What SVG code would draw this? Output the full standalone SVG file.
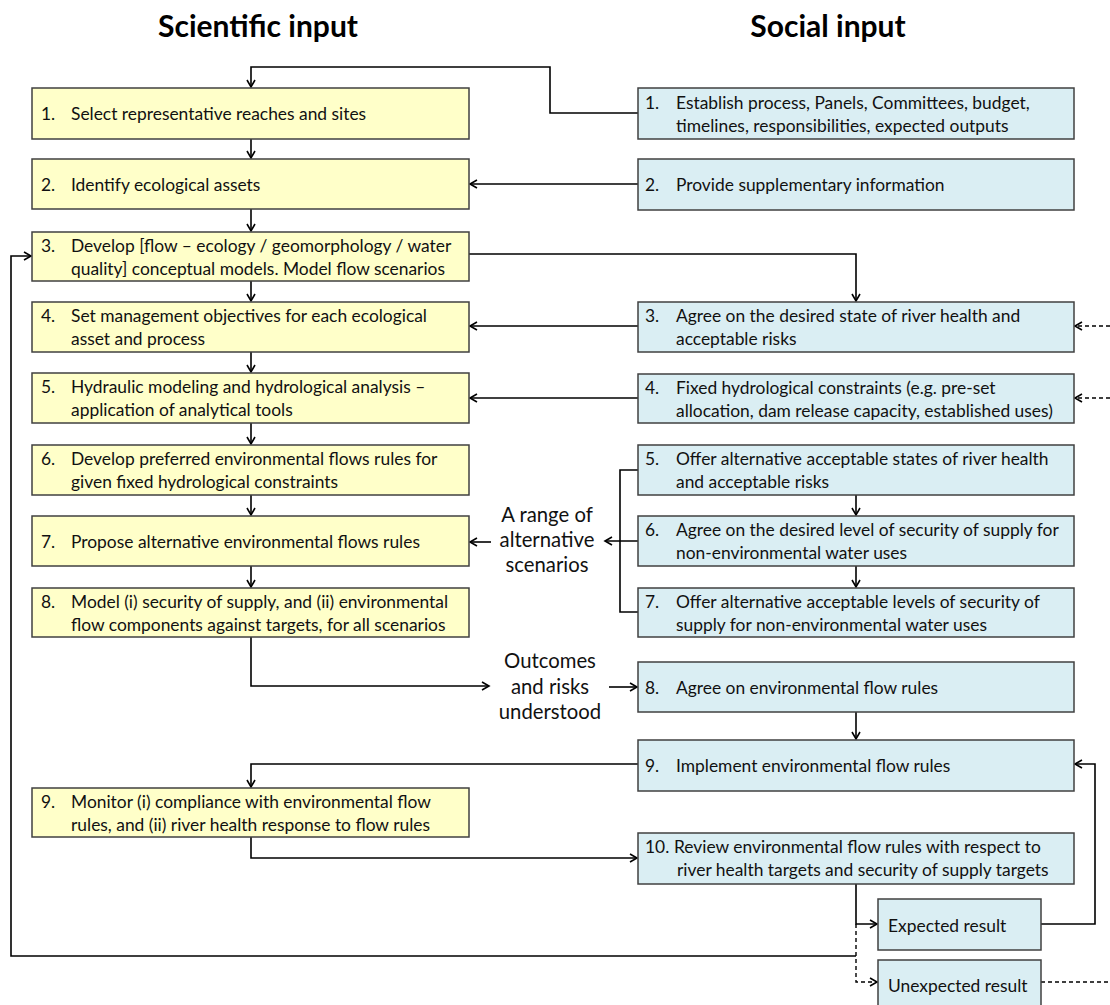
<svg xmlns="http://www.w3.org/2000/svg" width="1110" height="1005" viewBox="0 0 1110 1005">
  <style>
    .sci { fill: #FFFFC9; stroke: #404040; stroke-width: 1.5; }
    .soc { fill: #DAEEF3; stroke: #404040; stroke-width: 1.5; }
    .t { font-family: Lato, "Liberation Sans", sans-serif; font-size: 17.4px; fill: #111; }
    .lbl { font-family: Lato, "Liberation Sans", sans-serif; font-size: 20.3px; fill: #111; text-anchor: middle; }
    .title { font-family: Lato, "Liberation Sans", sans-serif; font-size: 30px; font-weight: bold; fill: #000; text-anchor: middle; }
    .c { fill: none; stroke: #000; stroke-width: 1.6; }
    .d { fill: none; stroke: #000; stroke-width: 1.4; stroke-dasharray: 4 3; }
  </style>
  <defs>
    <marker id="arr" markerUnits="userSpaceOnUse" markerWidth="12" markerHeight="12" refX="8" refY="5" orient="auto">
      <path d="M1,1 L8,5 L1,9" fill="none" stroke="#000" stroke-width="1.6"/>
    </marker>
  </defs>

  <!-- column headings -->
  <text class="title" x="258" y="37">Scientific input</text>
  <text class="title" x="828" y="37">Social input</text>

  <!-- connectors -->
  <g id="connectors">
    <path class="c" d="M638,113 H550 V67 H251 V87" marker-end="url(#arr)"/>
    <path class="c" d="M251,139 V158" marker-end="url(#arr)"/>
    <path class="c" d="M251,209 V231" marker-end="url(#arr)"/>
    <path class="c" d="M251,281 V301" marker-end="url(#arr)"/>
    <path class="c" d="M251,352 V372" marker-end="url(#arr)"/>
    <path class="c" d="M251,423 V444" marker-end="url(#arr)"/>
    <path class="c" d="M251,495 V515" marker-end="url(#arr)"/>
    <path class="c" d="M251,566 V587" marker-end="url(#arr)"/>
    <path class="c" d="M638,184 H470" marker-end="url(#arr)"/>
    <path class="c" d="M469,254 H856 V301" marker-end="url(#arr)"/>
    <path class="c" d="M638,326 H470" marker-end="url(#arr)"/>
    <path class="c" d="M638,398 H470" marker-end="url(#arr)"/>
    <path class="c" d="M638,470 H620 V612 H638"/>
    <path class="c" d="M638,541 H605" marker-end="url(#arr)"/>
    <path class="c" d="M856,495 V515" marker-end="url(#arr)"/>
    <path class="c" d="M856,566 V587" marker-end="url(#arr)"/>
    <path class="c" d="M491,542 H470" marker-end="url(#arr)"/>
    <path class="c" d="M251,637 V686 H489" marker-end="url(#arr)"/>
    <path class="c" d="M609,687 H637" marker-end="url(#arr)"/>
    <path class="c" d="M856,712 V739" marker-end="url(#arr)"/>
    <path class="c" d="M638,764 H251 V787" marker-end="url(#arr)"/>
    <path class="c" d="M251,837 V858 H637" marker-end="url(#arr)"/>
    <path class="c" d="M856,884 V924 H877" marker-end="url(#arr)"/>
    <path class="c" d="M1041,924 H1095 V764 H1075" marker-end="url(#arr)"/>
    <path class="c" d="M856,956 H11 V256 H31" marker-end="url(#arr)"/>
    <path class="d" d="M856,924 V982 H877" marker-end="url(#arr)"/>
    <path class="d" d="M1041,982 H1110"/>
    <path class="d" d="M1110,326 H1075" marker-end="url(#arr)"/>
    <path class="d" d="M1110,398 H1075" marker-end="url(#arr)"/>
  </g>

  <!-- scientific steps -->
  <g id="sci1"><rect class="sci" x="32" y="88" width="437" height="51"/>
    <text class="t" x="41" y="120">1.</text><text class="t" x="71" y="120">Select representative  reaches and sites</text></g>
  <g id="sci2"><rect class="sci" x="32" y="159" width="437" height="50"/>
    <text class="t" x="41" y="191">2.</text><text class="t" x="71" y="191">Identify ecological assets</text></g>
  <g id="sci3"><rect class="sci" x="32" y="232" width="437" height="49"/>
    <text class="t" x="41" y="252">3.</text><text class="t" x="71" y="252">Develop [flow – ecology / geomorphology / water</text>
    <text class="t" x="71" y="275">quality] conceptual models. Model flow scenarios</text></g>
  <g id="sci4"><rect class="sci" x="32" y="302" width="437" height="50"/>
    <text class="t" x="41" y="322">4.</text><text class="t" x="71" y="322">Set management objectives for each ecological</text>
    <text class="t" x="71" y="345">asset and process</text></g>
  <g id="sci5"><rect class="sci" x="32" y="373" width="437" height="50"/>
    <text class="t" x="41" y="393">5.</text><text class="t" x="71" y="393">Hydraulic modeling and hydrological analysis –</text>
    <text class="t" x="71" y="416">application of analytical tools</text></g>
  <g id="sci6"><rect class="sci" x="32" y="445" width="437" height="50"/>
    <text class="t" x="41" y="465">6.</text><text class="t" x="71" y="465">Develop preferred environmental flows rules for</text>
    <text class="t" x="71" y="488">given fixed hydrological constraints</text></g>
  <g id="sci7"><rect class="sci" x="32" y="516" width="437" height="50"/>
    <text class="t" x="41" y="548">7.</text><text class="t" x="71" y="548">Propose alternative environmental flows rules</text></g>
  <g id="sci8"><rect class="sci" x="32" y="588" width="437" height="49"/>
    <text class="t" x="41" y="608">8.</text><text class="t" x="71" y="608">Model (i) security of supply, and (ii) environmental</text>
    <text class="t" x="71" y="631">flow components against targets, for all scenarios</text></g>
  <g id="sci9"><rect class="sci" x="32" y="788" width="437" height="49"/>
    <text class="t" x="41" y="808">9.</text><text class="t" x="71" y="808">Monitor (i) compliance with environmental flow</text>
    <text class="t" x="71" y="831">rules, and (ii) river health response to flow rules</text></g>

  <!-- social steps -->
  <g id="soc1"><rect class="soc" x="638" y="88" width="436" height="51"/>
    <text class="t" x="645" y="109">1.</text><text class="t" x="676" y="109">Establish process, Panels, Committees, budget,</text>
    <text class="t" x="676" y="132">timelines, responsibilities, expected outputs</text></g>
  <g id="soc2"><rect class="soc" x="638" y="159" width="436" height="51"/>
    <text class="t" x="645" y="191">2.</text><text class="t" x="676" y="191">Provide supplementary information</text></g>
  <g id="soc3"><rect class="soc" x="638" y="302" width="436" height="50"/>
    <text class="t" x="645" y="322">3.</text><text class="t" x="676" y="322">Agree on the desired state of river health and</text>
    <text class="t" x="676" y="345">acceptable risks</text></g>
  <g id="soc4"><rect class="soc" x="638" y="374" width="436" height="49"/>
    <text class="t" x="645" y="394">4.</text><text class="t" x="676" y="394">Fixed hydrological constraints (e.g. pre-set</text>
    <text class="t" x="676" y="417">allocation, dam release capacity, established uses)</text></g>
  <g id="soc5"><rect class="soc" x="638" y="445" width="436" height="50"/>
    <text class="t" x="645" y="465">5.</text><text class="t" x="676" y="465">Offer alternative acceptable states of river health</text>
    <text class="t" x="676" y="488">and acceptable risks</text></g>
  <g id="soc6"><rect class="soc" x="638" y="516" width="436" height="50"/>
    <text class="t" x="645" y="536">6.</text><text class="t" x="676" y="536">Agree on the desired level of security of supply for</text>
    <text class="t" x="676" y="559">non-environmental water uses</text></g>
  <g id="soc7"><rect class="soc" x="638" y="588" width="436" height="49"/>
    <text class="t" x="645" y="608">7.</text><text class="t" x="676" y="608">Offer alternative acceptable levels of security of</text>
    <text class="t" x="676" y="631">supply for non-environmental water uses</text></g>
  <g id="soc8"><rect class="soc" x="638" y="662" width="436" height="50"/>
    <text class="t" x="645" y="694">8.</text><text class="t" x="676" y="694">Agree on environmental flow rules</text></g>
  <g id="soc9"><rect class="soc" x="638" y="740" width="436" height="51"/>
    <text class="t" x="645" y="772">9.</text><text class="t" x="676" y="772">Implement environmental flow rules</text></g>
  <g id="soc10"><rect class="soc" x="638" y="833" width="436" height="51"/>
    <text class="t" x="645" y="853">10.</text><text class="t" x="674" y="853">Review environmental flow rules with respect to</text>
    <text class="t" x="677" y="876">river health targets and security of supply targets</text></g>
  <g id="expected"><rect class="soc" x="878" y="899" width="163" height="51"/>
    <text class="t" x="888" y="932">Expected result</text></g>
  <g id="unexpected"><rect class="soc" x="878" y="960" width="163" height="52"/>
    <text class="t" x="888" y="992">Unexpected result</text></g>

  <!-- free labels -->
  <g id="range-label">
    <text class="lbl" x="547" y="522">A range of</text>
    <text class="lbl" x="547" y="547">alternative</text>
    <text class="lbl" x="547" y="572">scenarios</text>
  </g>
  <g id="outcomes-label">
    <text class="lbl" x="550" y="668">Outcomes</text>
    <text class="lbl" x="550" y="694">and risks</text>
    <text class="lbl" x="550" y="719">understood</text>
  </g>
</svg>
